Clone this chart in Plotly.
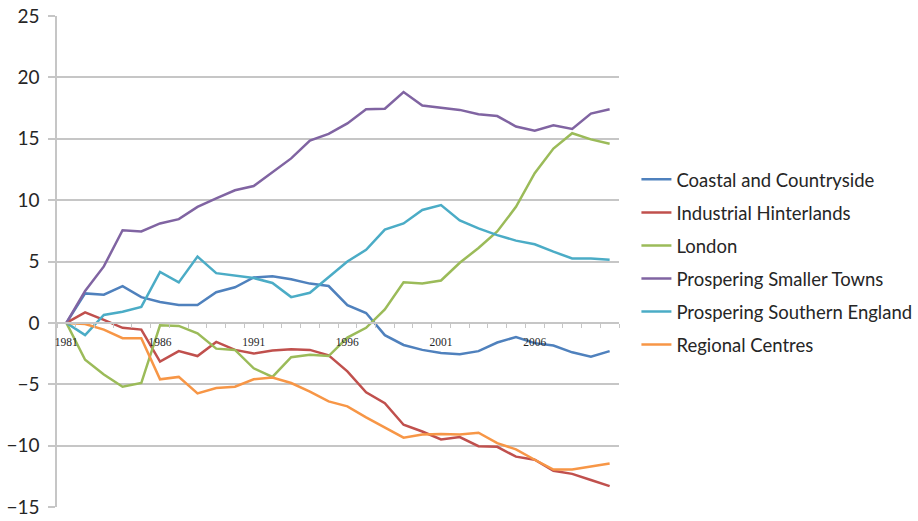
import plotly.graph_objects as go

years = list(range(1981, 2011))

coastal = [0, 2.4, 2.3, 3.0, 2.1, 1.7, 1.45, 1.45, 2.5, 2.9,
           3.7, 3.8, 3.55, 3.2, 3.0, 1.45, 0.8, -1.0, -1.8, -2.2,
           -2.45, -2.55, -2.3, -1.6, -1.15, -1.65, -1.85, -2.4, -2.75, -2.3]
industrial = [0, 0.85, 0.25, -0.4, -0.55, -3.15, -2.3, -2.7, -1.55, -2.2,
              -2.5, -2.25, -2.15, -2.2, -2.65, -3.95, -5.65, -6.55, -8.3, -8.85,
              -9.5, -9.3, -10.05, -10.1, -10.9, -11.15, -12.05, -12.3, -12.8, -13.3]
london = [0, -3.0, -4.2, -5.2, -4.9, -0.2, -0.25, -0.85, -2.1, -2.2,
          -3.7, -4.4, -2.8, -2.6, -2.7, -1.2, -0.4, 1.1, 3.3, 3.2,
          3.45, 4.9, 6.1, 7.45, 9.45, 12.2, 14.2, 15.45, 14.95, 14.6]
smaller_towns = [0, 2.6, 4.6, 7.55, 7.45, 8.1, 8.45, 9.45, 10.15, 10.8,
                 11.15, 12.3, 13.4, 14.85, 15.4, 16.25, 17.4, 17.45, 18.8, 17.7,
                 17.55, 17.35, 17.0, 16.85, 16.0, 15.65, 16.1, 15.8, 17.05, 17.4]
southern = [0, -1.0, 0.65, 0.9, 1.3, 4.15, 3.3, 5.4, 4.05, 3.85,
            3.65, 3.25, 2.1, 2.45, 3.75, 5.0, 5.95, 7.6, 8.1, 9.2,
            9.6, 8.35, 7.7, 7.15, 6.7, 6.4, 5.8, 5.25, 5.25, 5.15]
regional = [0, -0.1, -0.55, -1.25, -1.25, -4.6, -4.4, -5.75, -5.3, -5.2,
            -4.6, -4.45, -4.9, -5.6, -6.4, -6.8, -7.7, -8.5, -9.35, -9.1,
            -9.05, -9.1, -8.95, -9.8, -10.3, -11.15, -11.95, -11.95, -11.7, -11.45]

series = [
    ("Coastal and Countryside", coastal, "#4F81BD"),
    ("Industrial Hinterlands", industrial, "#C0504D"),
    ("London", london, "#9BBB59"),
    ("Prospering Smaller Towns", smaller_towns, "#8064A2"),
    ("Prospering Southern England", southern, "#4BACC6"),
    ("Regional Centres", regional, "#F79646"),
]

label_years = [1981, 1986, 1991, 1996, 2001, 2006]
y_ticks = [-15, -10, -5, 0, 5, 10, 15, 20, 25]

fig = go.Figure()
for i, (name, vals, color) in enumerate(series):
    fig.add_trace(go.Scatter(
        x=years, y=vals, name=name, mode="lines",
        line=dict(color=color, width=2.5),
        legendgroup=f"g{i}",
    ))

grid = "#C6C6C6"
text_col = "#262626"

fig.update_layout(
    width=918, height=521,
    margin=dict(l=57, r=299, t=16, b=14, autoexpand=False),
    paper_bgcolor="white", plot_bgcolor="white",
    font=dict(family="Lato, Open Sans, sans-serif", color=text_col),
    showlegend=True,
    legend=dict(
        x=1.031, y=0.705, xanchor="left", yanchor="top",
        font=dict(size=18.5, color=text_col),
        traceorder="grouped", tracegroupgap=6,
        bgcolor="rgba(0,0,0,0)",
    ),
    xaxis=dict(
        range=[1980.5, 2010.5], automargin=False,
        anchor="free", position=0.375,
        showgrid=False, zeroline=False,
        showline=True, linecolor=grid, linewidth=1.5,
        tickmode="array", tickvals=label_years,
        ticks="", ticklabelstandoff=9,
        tickfont=dict(family="Liberation Serif, serif", size=11.5, color=text_col),
        minor=dict(tickmode="linear", tick0=1980.5, dtick=1,
                   ticks="outside", ticklen=4, tickcolor=grid, tickwidth=1,
                   showgrid=False),
    ),
    yaxis=dict(
        range=[-15, 25], automargin=False,
        tickmode="array", tickvals=y_ticks,
        showgrid=True, gridcolor=grid, gridwidth=1.5,
        zeroline=False,
        showline=True, linecolor=grid, linewidth=1.5,
        ticks="outside", ticklen=7, tickcolor=grid, tickwidth=1.5,
        ticklabelstandoff=5,
        tickfont=dict(size=19, color=text_col),
    ),
)

fig.write_html("out.html")
